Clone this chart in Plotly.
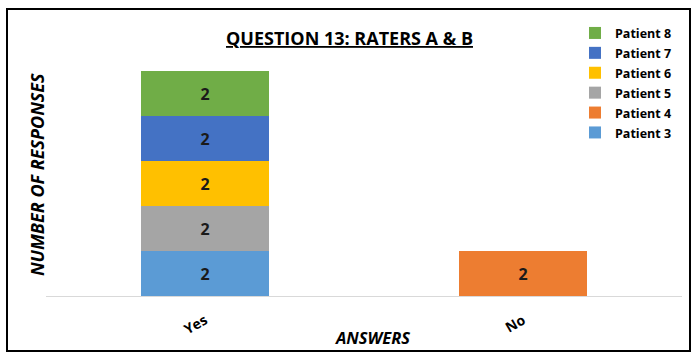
import plotly.graph_objects as go

categories = ["Yes", "No"]
series_names = ["Patient 3", "Patient 4", "Patient 5", "Patient 6", "Patient 7", "Patient 8"]
series_values = [
    [2, None],   # Patient 3
    [None, 2],   # Patient 4
    [2, None],   # Patient 5
    [2, None],   # Patient 6
    [2, None],   # Patient 7
    [2, None],   # Patient 8
]
colors = ["#5B9BD5", "#ED7D31", "#A5A5A5", "#FFC000", "#4472C4", "#70AD47"]

FONT = "Open Sans"

fig = go.Figure()
for name, vals, col in zip(series_names, series_values, colors):
    fig.add_trace(go.Bar(
        x=categories, y=vals,
        name="<span style='font-size:12.5px'><b>%s</b></span>" % name,
        marker_color=col, marker_line_width=0,
        text=[("<b>%d</b>" % v) if v is not None else "" for v in vals],
        textposition="inside", insidetextanchor="middle",
        textfont=dict(color="#1a1a1a", size=16, family=FONT),
    ))

W, H = 700, 359
L, R, T, B = 46, 18, 71, 63
pw, ph = W - L - R, H - T - B

def px(x):
    return (x - L) / pw

def py(y):
    return (H - B - y) / ph

fig.update_layout(
    width=W, height=H,
    margin=dict(l=L, r=R, t=T, b=B),
    barmode="stack", bargap=0.6,
    plot_bgcolor="white", paper_bgcolor="white",
    font=dict(family=FONT, color="#000"),
    showlegend=True,
    legend=dict(
        traceorder="reversed",
        x=px(575), y=py(18), xanchor="left", yanchor="top",
        font=dict(size=13, family=FONT, color="#000"),
        itemwidth=30, tracegroupgap=0,
        bgcolor="rgba(0,0,0,0)",
    ),
    xaxis=dict(
        showline=True, linecolor="#d9d9d9", linewidth=1,
        ticks="", tickangle=-30, automargin=False, ticklabelstandoff=10,
        tickfont=dict(size=14, family=FONT, color="#000", weight="bold"),
    ),
    yaxis=dict(
        range=[0, 10], showgrid=False, showticklabels=False, zeroline=False,
        ticks="", automargin=False,
    ),
    annotations=[
        dict(text="<b><u>QUESTION 13: RATERS A & B</u></b>",
             x=px(349), y=py(38), xref="paper", yref="paper",
             xanchor="center", yanchor="middle",
             showarrow=False, font=dict(size=18, family=FONT, color="#000")),
        dict(text="<b><i>ANSWERS</i></b>",
             x=px(372), y=py(337), xref="paper", yref="paper",
             xanchor="center", yanchor="middle",
             showarrow=False, font=dict(size=16.5, family=FONT, color="#000")),
        dict(text="<b><i>NUMBER OF RESPONSES</i></b>", textangle=-90,
             x=px(37), y=py(175), xref="paper", yref="paper",
             xanchor="center", yanchor="middle",
             showarrow=False, font=dict(size=18, family=FONT, color="#000")),
    ],
    shapes=[
        dict(type="rect", xref="paper", yref="paper",
             x0=px(7), x1=px(690), y0=py(351), y1=py(9),
             line=dict(color="#000", width=2), layer="below"),
    ],
)

fig.write_html("out.html", config={"displayModeBar": False},
               post_script="document.body.style.margin='0';")
